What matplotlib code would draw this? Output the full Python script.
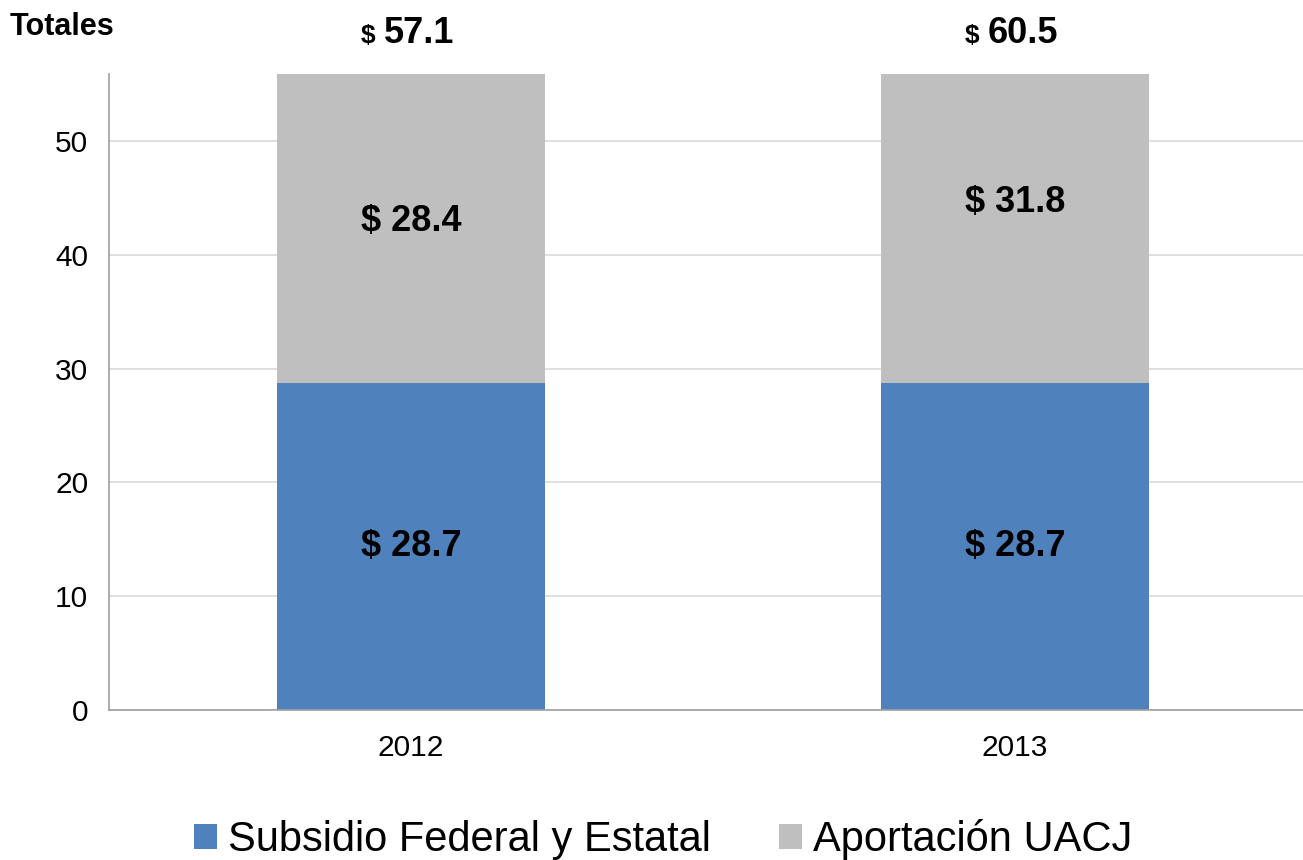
import matplotlib
matplotlib.use('Agg')
import matplotlib.pyplot as plt
import matplotlib.transforms as mtransforms

plt.rcParams['font.family'] = ['Liberation Sans', 'DejaVu Sans']

years = ['2012', '2013']
subsidio = [28.7, 28.7]
aportacion = [28.4, 31.8]
totales = [57.1, 60.5]
series_names = ['Subsidio Federal y Estatal', 'Aportación UACJ']

blue = '#4F81BD'
gray = '#BFBFBF'

fig = plt.figure(figsize=(13.03, 8.6), dpi=100)
ax = fig.add_axes([109/1303, 150/860, 1208/1303, 636/860])

x = range(len(years))
b1 = ax.bar(x, subsidio, width=0.445, color=blue, label=series_names[0], zorder=2)
b2 = ax.bar(x, aportacion, width=0.445, bottom=subsidio, color=gray,
            label=series_names[1], zorder=2)

ax.set_xlim(-0.5, 1.5)
ax.set_ylim(0, 55.9)
ax.set_yticks([0, 10, 20, 30, 40, 50])
ax.set_xticks(list(x))
ax.set_xticklabels(years)
ax.tick_params(axis='both', length=0, labelsize=21.5)
ax.tick_params(axis='y', pad=15)
ax.tick_params(axis='x', pad=17)
ax.grid(axis='y', color='#D9D9D9', linewidth=1.2, zorder=0)
ax.set_axisbelow(True)
for s in ['top', 'right']:
    ax.spines[s].set_visible(False)
for s in ['left', 'bottom']:
    ax.spines[s].set_color('#A0A0A0')
    ax.spines[s].set_linewidth(1.2)

# segment labels at the middle of each full segment (clipped bars)
for i in x:
    ax.text(i, subsidio[i] / 2, '$ %.1f' % subsidio[i], ha='center', va='center',
            fontsize=26, fontweight='bold', color='black')
    ax.text(i, subsidio[i] + aportacion[i] / 2, '$ %.1f' % aportacion[i],
            ha='center', va='center', fontsize=26, fontweight='bold', color='black')

# totals above the plot
trans = mtransforms.blended_transform_factory(ax.transData, fig.transFigure)
for i in x:
    ax.annotate('$', xy=(i, 1 - 43/860), xycoords=trans, xytext=(-36, 0),
                textcoords='offset pixels', ha='right', va='baseline',
                fontsize=19, fontweight='bold', annotation_clip=False)
    ax.annotate('%.1f' % totales[i], xy=(i, 1 - 43/860), xycoords=trans,
                xytext=(-27, 0), textcoords='offset pixels', ha='left',
                va='baseline', fontsize=26, fontweight='bold',
                annotation_clip=False)

fig.text(10/1303, 1 - 27/860, 'Totales', ha='left', va='center',
         fontsize=22, fontweight='bold')

fig.legend(handles=[b1, b2], labels=series_names, loc='center',
           bbox_to_anchor=(0.509, 20/860), ncol=2, frameon=False, fontsize=30,
           handlelength=0.55, handleheight=0.55, handletextpad=0.26,
           columnspacing=1.65)

fig.savefig('out.png', dpi=100)
